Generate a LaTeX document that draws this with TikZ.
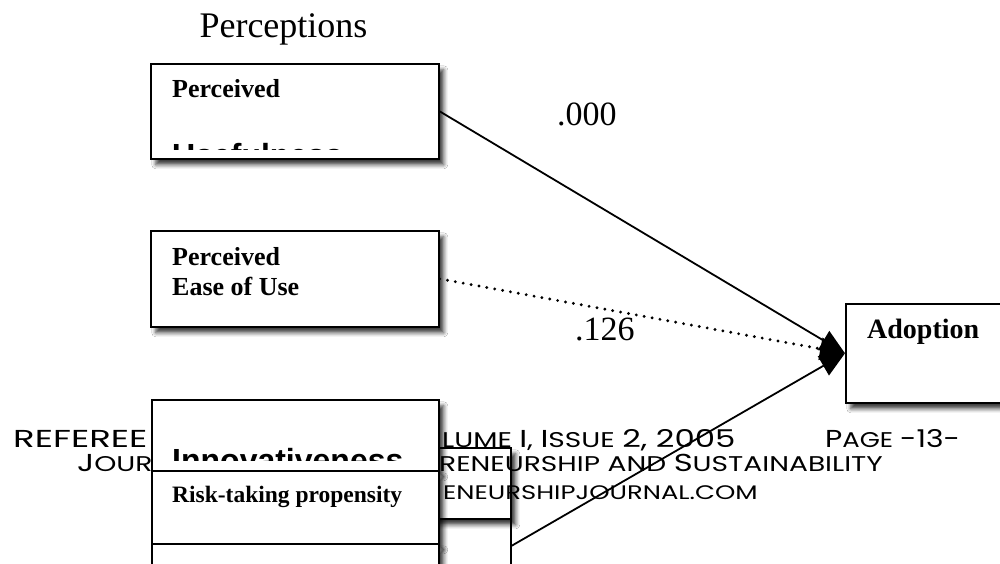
\documentclass[tikz,border=0pt]{standalone}
\usepackage{fontspec}
\setmainfont{Liberation Serif}
\newfontfamily\headfont{Liberation Sans}
\newfontfamily\footfont[FakeStretch=1.32]{Poppins}
\usetikzlibrary{
  arrows.meta,
  shadows.blur,
}
\newcommand{\fcap}[1]{{\fontsize{24.5pt}{25pt}\selectfont #1}}
\tikzset{
  panel/.style={
    draw,
    fill=white,
    line width=1.6pt,
    anchor=north west,
    inner sep=0pt,
    blur shadow={shadow xshift=5pt, shadow yshift=-6pt, shadow blur radius=4pt, shadow opacity=75},
  },
  flat/.style={draw, fill=white, line width=1.6pt, anchor=north west, inner sep=0pt},
  boxtext/.style={font=\bfseries\fontsize{26pt}{30pt}\selectfont, anchor=base west, inner sep=0pt},
  bigtext/.style={font=\headfont\bfseries\fontsize{32pt}{40pt}\selectfont, anchor=base west, inner sep=0pt},
  coef/.style={font=\fontsize{34pt}{40pt}\selectfont, anchor=base west, inner sep=0pt},
  footer/.style={font=\footfont\fontsize{21.3pt}{22pt}\selectfont, anchor=base west, inner sep=0pt},
  link/.style={-{Triangle[length=25pt 0 0,width=22pt 0]}, line width=1.8pt},
}

\begin{document}
\begin{tikzpicture}[x=1pt,y=-1pt]
  \fill[white] (0,0) rectangle (1000,563);
  \useasboundingbox (0,0) rectangle (1000,563);

  % --- boxes behind the page footer ---
  \node[flat, minimum width=150pt, minimum height=54pt] (back2) at (360,518) {};
  \node[panel, minimum width=150pt, minimum height=71pt] (back1) at (360,447) {};

  % page footer
  \node[footer, xscale=1.1, transform shape] (foot1a) at (13,447) {\fcap{REFEREE}};
  \node[footer] (foot1b) at (442,447) {LUME \fcap{I}, \fcap{I}SSUE \fcap{2, 2005}};
  \node[footer, xscale=0.92, transform shape] (foot1c) at (825,447) {\fcap{P}AGE \fcap{-13-}};
  \node[footer] (foot2a) at (77,471) {\fcap{J}OUR};
  \node[footer] (foot2b) at (439,471) {RENEURSHIP AND \fcap{S}USTAINABILITY};
  \node[footer, font=\footfont\fontsize{19.6pt}{22pt}\selectfont] (foot3) at (443,499) {ENEURSHIPJOURNAL.COM};

  % --- perceptions ---
  \node[font=\fontsize{36pt}{40pt}\selectfont, anchor=base, inner sep=0pt] (title) at (283.5,37) {Perceptions};

  \node[panel, minimum width=288pt, minimum height=95pt] (pu) at (150,63) {};
  \node[boxtext] (putext) at (172,97) {Perceived};
  \begin{scope}
    \clip (150,63) rectangle (438,149);
    \node[bigtext] (puword) at (172,166) {Usefulness};
  \end{scope}

  \node[panel, minimum width=288pt, minimum height=96pt] (peou) at (150,230) {};
  \node[boxtext] (peoutext) at (172,265) {Perceived};
  \node[boxtext] (peoutext2) at (172,295) {Ease of Use};

  \node[panel, minimum width=165pt, minimum height=99pt] (adop) at (845,303) {};
  \node[boxtext, font=\bfseries\fontsize{28pt}{30pt}\selectfont] (adoptext) at (867,338) {Adoption};

  % --- personality stack ---
  \node[panel, minimum width=287pt, minimum height=71pt] (innov) at (151,399) {};
  \begin{scope}
    \clip (151,399) rectangle (438,460);
    \node[bigtext] (innovword) at (172,471) {Innovativeness};
  \end{scope}
  \node[panel, minimum width=287pt, minimum height=73pt] (risk) at (151,470) {};
  \node[boxtext, font=\bfseries\fontsize{23.5pt}{30pt}\selectfont] (risktext) at (172,502) {Risk-taking propensity};
  \node[panel, minimum width=287pt, minimum height=60pt] (lower) at (151,543) {};

  % paths to adoption
  \draw[link] (pu.east) -- (adop.west);
  \draw[link, line width=3.2pt, dash pattern=on 0pt off 8pt, line cap=round] (peou.east) -- (adop.west);
  \draw[link] (back2.east) -- (adop.west);
  \node[coef] (coefpu) at (557,125) {.000};
  \node[coef] (coefpeou) at (575,340) {.126};
\end{tikzpicture}
\end{document}
